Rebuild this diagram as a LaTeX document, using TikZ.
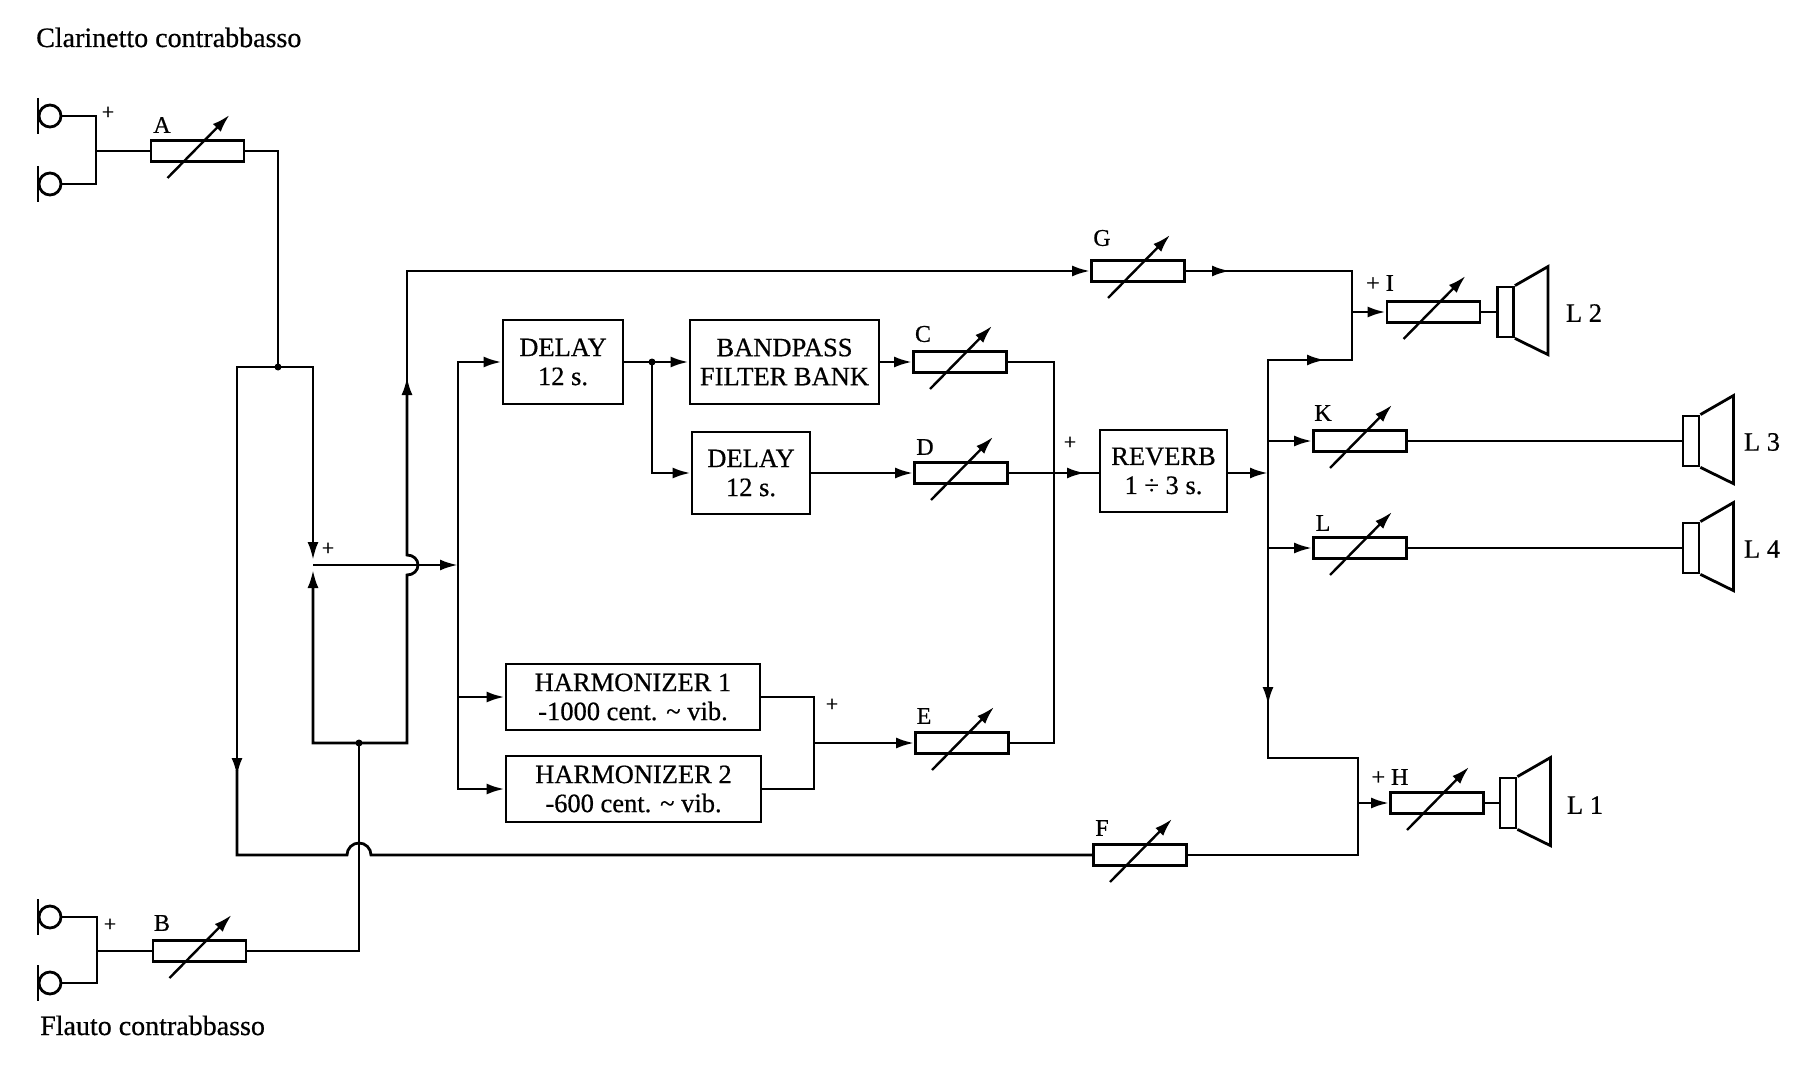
\documentclass[tikz,border=0pt]{standalone}
\usepackage{fontspec}
\setmainfont{Liberation Serif}[FakeBold=0.6]
\usetikzlibrary{arrows.meta}
\begin{document}
\begin{tikzpicture}[x=1pt,y=-1pt,
  wire/.style={line width=2.8pt, line join=miter},
  arr/.style={-{Latex[length=18pt,width=11pt]}},
  barr/.style={{Latex[length=18pt,width=11pt]}-{Latex[length=18pt,width=11pt]}},
  box/.style={draw, line width=2.8pt, align=center, inner sep=0pt, font=\fontsize{26.5}{29}\selectfont},
  res/.style={draw, line width=2.8pt, minimum width=93pt, minimum height=21pt, inner sep=0pt},
  var/.style={line width=2.4pt, -{Latex[length=18pt,width=11pt]}},
  lab/.style={font=\fontsize{24}{26}\selectfont, inner sep=0pt},
  big/.style={font=\fontsize{26.5}{29}\selectfont, inner sep=0pt},
  plus/.style={font=\fontsize{22}{24}\selectfont, inner sep=0pt},
  mic/.style={circle, draw, line width=2.8pt, minimum size=22pt, inner sep=0pt},
  spk/.style={draw, line width=2.8pt, minimum width=16pt, minimum height=50pt, inner sep=0pt},
]
\fill[white] (0,0) rectangle (1794,1075);
\path[use as bounding box] (0,0) rectangle (1794,1075);

% titles
\node[lab, anchor=base west, font=\fontsize{28}{30}\selectfont] (t1) at (36,47) {Clarinetto contrabbasso};
\node[lab, anchor=base west, font=\fontsize{28}{30}\selectfont] (t2) at (40,1035) {Flauto contrabbasso};

% microphones
\node[mic] (m1) at (50,116) {};
\node[mic] (m2) at (50,184) {};
\node[mic] (m3) at (50,917) {};
\node[mic] (m4) at (50,983) {};
\foreach \m in {m1,m2,m3,m4}
  \draw[wire] ([shift={(-12,-18)}]\m.center) -- ([shift={(-12,18)}]\m.center);

% blocks
\node[box, minimum width=120pt, minimum height=84pt] (d1) at (563,362) {DELAY\\12 s.};
\node[box, minimum width=189pt, minimum height=84pt] (bp) at (784.5,362) {BANDPASS\\FILTER BANK};
\node[box, minimum width=118pt, minimum height=82pt] (d2) at (751,473) {DELAY\\12 s.};
\node[box, minimum width=127pt, minimum height=82pt] (rv) at (1163.5,471) {REVERB\\1 ÷ 3 s.};
\node[box, minimum width=254pt, minimum height=66pt] (h1) at (633,697) {HARMONIZER 1\\-1000 cent. \textasciitilde\ vib.};
\node[box, minimum width=255pt, minimum height=66pt] (h2) at (633.5,789) {HARMONIZER 2\\-600 cent. \textasciitilde\ vib.};

% variable resistors
\node[res] (A) at (197.5,151) {};
\node[res] (B) at (199.5,951) {};
\node[res] (C) at (960,362) {};
\node[res] (D) at (961,473) {};
\node[res] (E) at (962,743) {};
\node[res] (F) at (1140,855) {};
\node[res] (G) at (1138,271) {};
\node[res] (I) at (1433.5,312) {};
\node[res] (K) at (1360,441) {};
\node[res] (L) at (1360,548) {};
\node[res] (H) at (1437,803) {};
\foreach \r in {A,B,C,D,E,F,G,I,K,L,H}
  \draw[var] ([shift={(-30,27)}]\r.center) -- ([shift={(32,-36)}]\r.center);

% resistor labels
\node[lab] (lA) at (162,125) {A};
\node[lab] (lB) at (162,923) {B};
\node[lab] (lC) at (923,334) {C};
\node[lab] (lD) at (925,447) {D};
\node[lab] (lE) at (924,716) {E};
\node[lab] (lF) at (1102,828) {F};
\node[lab] (lG) at (1102,238) {G};
\node[lab] (lK) at (1323,413) {K};
\node[lab] (lL) at (1323,523) {L};
\node[lab] (lI) at (1380,283) {+ I};
\node[lab] (lH) at (1390,777) {+ H};

% plus signs
\node[plus] (p1) at (108,113) {+};
\node[plus] (p2) at (110,925) {+};
\node[plus] (p3) at (328,549) {+};
\node[plus] (p4) at (832,705) {+};
\node[plus] (p5) at (1070,443) {+};

% speakers
\node[spk] (s2) at (1505.5,312) {};
\node[spk] (s3) at (1691,441) {};
\node[spk] (s4) at (1691,548) {};
\node[spk] (s1) at (1508,803) {};
\foreach \s in {s1,s2,s3,s4}
  \draw[wire] (\s.north east) -- ++(33,-19) -- ++(0,88) -- (\s.south east);
\node[big] (L2) at (1584,313) {L 2};
\node[big] (L3) at (1762,442) {L 3};
\node[big] (L4) at (1762,549) {L 4};
\node[big] (L1) at (1585,805) {L 1};

% junction coordinates
\coordinate (ja) at (278,367);
\coordinate (jb) at (359,743);
\coordinate (jc) at (652,362);

% input wiring
\draw[wire] (m1.east) -- (96,116) -- (96,184) -- (m2.east);
\draw[wire] (96,151) -- (A.west);
\draw[wire] (m3.east) -- (97,917) -- (97,983) -- (m4.east);
\draw[wire] (97,951) -- (B.west);
\draw[wire] (A.east) -- (278,151) -- (ja);
\fill (ja) circle (3.5pt);
\draw[wire] (B.east) -- (359,951) -- (jb);
\fill (jb) circle (3.5pt);

% mixing loop
\draw[wire,barr] (313,560) -- (313,367) -- (237,367) -- (237,776);
\draw[wire] (237,770) -- (237,855) -- (347,855) .. controls (347,848.4) and (352.4,843) .. (359,843) .. controls (365.6,843) and (371,848.4) .. (371,855) -- (F.west);
\draw[wire,barr] (313,570) -- (313,743) -- (407,743) -- (407,575) .. controls (413.5,575) and (418,570.5) .. (418,565) .. controls (418,559.5) and (413.5,555) .. (407,555) -- (407,377);
\draw[wire,arr] (407,382) -- (407,271) -- (G.west);
\draw[wire,arr] (313,565) -- (458,565);
\draw[wire,barr] (h2.west) -| (458,362) -- (d1.west);
\draw[wire,arr] (458,697) -- (h1.west);

% processing chain
\draw[wire,arr] (d1.east) -- (bp.west);
\fill (jc) circle (3.5pt);
\draw[wire,arr] (jc) |- (d2.west);
\draw[wire,arr] (bp.east) -- (C.west);
\draw[wire] (C.east) -- (1054,362) -- (1054,743) -- (E.east);
\draw[wire,arr] (d2.east) -- (D.west);
\draw[wire,arr] (D.east) -- (1085,473);
\draw[wire] (1080,473) -- (rv.west |- 0,473);
\draw[wire] (h1.east) -- (814,697) -- (814,789) -- (h2.east);
\draw[wire,arr] (814,743) -- (E.west);

% output bus
\draw[wire,arr] (rv.east |- 0,473) -- (1268,473);
\draw[wire,barr] (1268,705) -- (1268,360) -- (1325,360);
\draw[wire] (1320,360) -- (1352,360) -- (1352,271) -- (1225,271);
\draw[wire,arr] (G.east) -- (1230,271);
\draw[wire,arr] (1352,312) -- (I.west);
\draw[wire,arr] (1268,441) -- (K.west);
\draw[wire,arr] (1268,548) -- (L.west);
\draw[wire] (1268,700) -- (1268,758) -- (1358,758) -- (1358,855) -- (F.east);
\draw[wire,arr] (1358,803) -- (H.west);

% to speakers
\draw[wire] (I.east) -- (s2.west);
\draw[wire] (K.east) -- (s3.west);
\draw[wire] (L.east) -- (s4.west);
\draw[wire] (H.east) -- (s1.west);
\end{tikzpicture}
\end{document}
